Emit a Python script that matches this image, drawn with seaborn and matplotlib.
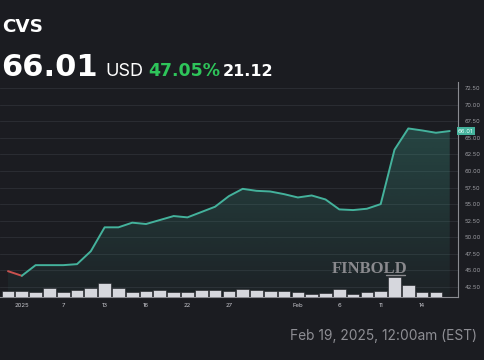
import numpy as np
import pandas as pd
import matplotlib
matplotlib.use("Agg")
import matplotlib.pyplot as plt
import seaborn as sns

# ---- data ----
dates = ["Dec 31", "Jan 2", "Jan 3", "Jan 6", "Jan 7", "Jan 8", "Jan 10", "Jan 13", "Jan 14",
         "Jan 15", "Jan 16", "Jan 17", "Jan 21", "Jan 22", "Jan 23", "Jan 24", "Jan 27",
         "Jan 28", "Jan 29", "Jan 30", "Jan 31", "Feb 3", "Feb 4", "Feb 5", "Feb 6", "Feb 7",
         "Feb 10", "Feb 11", "Feb 12", "Feb 13", "Feb 14", "Feb 18", "Feb 19"]
prices = [44.89, 44.2, 45.8, 45.8, 45.8, 45.95, 47.9, 51.5, 51.5, 52.2, 52.0, 52.6, 53.2,
          53.0, 53.8, 54.6, 56.2, 57.3, 57.0, 56.9, 56.5, 56.0, 56.3, 55.7, 54.2, 54.1,
          54.3, 55.0, 63.2, 66.4, 66.1, 65.75, 66.01]
volumes = [8.2, 7.4, 6.5, 11.7, 6.5, 9.5, 12.1, 18.6, 11.7, 6.9, 7.8, 9.5, 6.5, 6.9, 9.5,
           9.5, 8.2, 10.0, 8.7, 7.4, 7.4, 6.1, 4.3, 5.2, 10.4, 3.5, 6.5, 8.2, 26.4, 15.6,
           6.5, 6.5, 0.0]
xtick_pos = [1, 4, 7, 10, 13, 16, 21, 24, 27, 30]
xtick_labels = ["2025", "7", "13", "16", "22", "27", "Feb", "6", "11", "14"]
ytick_vals = [42.5, 45.0, 47.5, 50.0, 52.5, 55.0, 57.5, 60.0, 62.5, 65.0, 67.5, 70.0, 72.5]

df = pd.DataFrame({"i": np.arange(len(prices)), "price": prices, "vol": volumes})

BG = "#1b1c21"
TEAL = "#44b29c"
RED = "#c9524f"
W, H = 485, 360

sns.set_theme(style="dark")
plt.rcParams["font.family"] = ["Inter", "DejaVu Sans"]

fig = plt.figure(figsize=(W / 100, H / 100), dpi=100, facecolor=BG)

def fx(px):
    return px / W

def fy(py):
    return 1 - py / H

ax_left, ax_right, ax_top, ax_bot = 0, 458, 82, 297
ax = fig.add_axes([fx(ax_left), fy(ax_bot), fx(ax_right) - fx(ax_left), (ax_bot - ax_top) / H])
ax.set_facecolor(BG)

ymin, ymax = 41.0, 73.4
xmin, xmax = -0.58, 32.6

# gradient fill under the line
poly = ax.fill_between(df["i"], df["price"], ymin, color="none", lw=0)
grad = np.linspace(0, 1, 256).reshape(-1, 1)
rgba = np.zeros((256, 1, 4))
tc = matplotlib.colors.to_rgb(TEAL)
rgba[..., 0], rgba[..., 1], rgba[..., 2] = tc
rgba[..., 3] = (0.04 + 0.24 * grad)[:, :]
img = ax.imshow(rgba, extent=[xmin, xmax, ymin, 67.0], origin="lower", aspect="auto", zorder=1)
img.set_clip_path(poly.get_paths()[0], transform=ax.transData)

# line (red first segment, teal afterwards)
sns.lineplot(data=df.iloc[:2], x="i", y="price", ax=ax, color=RED, lw=1.4, zorder=3)
sns.lineplot(data=df.iloc[1:], x="i", y="price", ax=ax, color=TEAL, lw=1.4, zorder=3)

ax.set_xlabel("")
ax.set_ylabel("")

# volume bars on twin axis
ax2 = ax.twinx()
sns.barplot(data=df, x="i", y="vol", ax=ax2, native_scale=True, width=0.92,
            color="#d6d7dd", saturation=1, edgecolor=BG, linewidth=0.4, zorder=2)
ax2.set_ylim(0, 279.5)
ax2.set_yticks([])
ax2.set_ylabel("")
ax2.set_xlabel("")
for s in ax2.spines.values():
    s.set_visible(False)
ax2.grid(False)

# main axis styling (after twinx, which moves ticks to the left)
ax.set_xlim(xmin, xmax)
ax.set_ylim(ymin, ymax)
ax.yaxis.tick_right()
ax.set_yticks(ytick_vals)
ax.set_yticklabels([f"{v:.2f}" for v in ytick_vals])
ax.tick_params(axis="y", which="both", left=False, right=False, labelleft=False,
               labelright=True, length=0, pad=5, labelsize=4.2, labelcolor="#9c9ca2")
ax.grid(axis="y", color="#2a2c32", lw=0.8)
ax.grid(axis="x", visible=False)
for s in ["left", "top"]:
    ax.spines[s].set_visible(False)
for s in ["right", "bottom"]:
    ax.spines[s].set_visible(True)
    ax.spines[s].set_color("#8a8b91")
    ax.spines[s].set_linewidth(0.8)
ax.set_xticks(xtick_pos)
ax.set_xticklabels(xtick_labels)
ax.tick_params(axis="x", length=0, pad=4, labelsize=4.3, labelcolor="#c9c9cf")
ax.set_xlim(xmin, xmax)

# current price tag
ax.text(1.0, prices[-1], f"{prices[-1]:.2f}", transform=ax.get_yaxis_transform(),
        ha="left", va="center", fontsize=4.3, color="#e8fff9", clip_on=False, zorder=10,
        bbox=dict(boxstyle="square,pad=0.25", fc=TEAL, ec="none"))

# watermark
fig.text(fx(332), fy(273), "FINBOLD", family=["Liberation Serif"], weight="bold",
         fontsize=12, color="#8a8a8e", va="baseline", ha="left")
fig.add_artist(plt.Line2D([fx(386), fx(405)], [fy(275), fy(275)], color="#8a8a8e", lw=1.0))

# header texts
fig.text(fx(2), fy(32), "CVS", fontsize=13.2, weight="bold", color="white", va="baseline",
         family=["DejaVu Sans"])
fig.text(fx(1), fy(76), "66.01", fontsize=22, weight="bold", color="white", va="baseline",
         family=["DejaVu Sans"])
fig.text(fx(105), fy(76), "USD", fontsize=13, color="white", va="baseline",
         family=["Inter", "DejaVu Sans"])
fig.text(fx(148), fy(76), "47.05%", fontsize=12.5, weight="bold", color="#2ec45a",
         va="baseline", family=["DejaVu Sans"])
fig.text(fx(223), fy(76), "21.12", fontsize=11.5, weight="bold", color="white",
         va="baseline", family=["DejaVu Sans"])
fig.text(fx(477), fy(340), "Feb 19, 2025, 12:00am (EST)", fontsize=9.9, color="#8e8e94",
         va="baseline", ha="right")

fig.savefig("out.png", dpi=100, facecolor=BG)
